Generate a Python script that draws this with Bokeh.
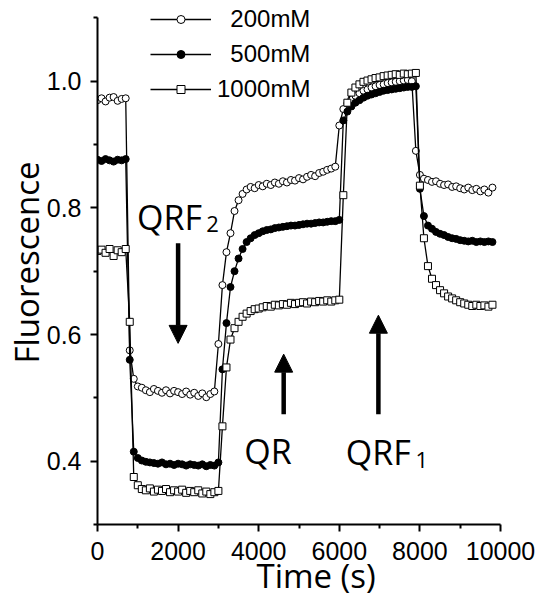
from bokeh.plotting import figure
from bokeh.models import (ColumnDataSource, FixedTicker, PrintfTickFormatter, Legend,
                          LegendItem, Label, Arrow, NormalHead)
from bokeh.embed import file_html
from bokeh.resources import INLINE

# ---------------- data ----------------
time_s = [0, 100, 200, 300, 400, 500, 600, 700, 800, 900,
          1000, 1100, 1200, 1300, 1400, 1500, 1600, 1700, 1800, 1900,
          2000, 2100, 2200, 2300, 2400, 2500, 2600, 2700, 2800, 2900,
          3000, 3100, 3200, 3300, 3400, 3500, 3600, 3700, 3800, 3900,
          4000, 4100, 4200, 4300, 4400, 4500, 4600, 4700, 4800, 4900,
          5000, 5100, 5200, 5300, 5400, 5500, 5600, 5700, 5800, 5900,
          6000, 6100, 6200, 6300, 6400, 6500, 6600, 6700, 6800, 6900,
          7000, 7100, 7200, 7300, 7400, 7500, 7600, 7700, 7800, 7900,
          8000, 8100, 8200, 8300, 8400, 8500, 8600, 8700, 8800, 8900,
          9000, 9100, 9200, 9300, 9400, 9500, 9600, 9700, 9800]

fl_200mM = [0.970, 0.973, 0.968, 0.974, 0.975, 0.969, 0.972, 0.973, 0.575, 0.530,
            0.518, 0.516, 0.512, 0.509, 0.514, 0.511, 0.508, 0.512, 0.507, 0.511,
            0.509, 0.506, 0.510, 0.505, 0.508, 0.503, 0.507, 0.501, 0.506, 0.510,
            0.585, 0.678, 0.730, 0.760, 0.795, 0.812, 0.822, 0.829, 0.833, 0.831,
            0.836, 0.834, 0.838, 0.836, 0.840, 0.838, 0.842, 0.840, 0.844, 0.843,
            0.847, 0.845, 0.849, 0.852, 0.850, 0.855, 0.857, 0.860, 0.862, 0.865,
            0.930, 0.956, 0.965, 0.972, 0.977, 0.981, 0.985, 0.987, 0.990, 0.992,
            0.994, 0.995, 0.997, 0.998, 0.999, 1.000, 1.001, 1.002, 1.000, 0.890,
            0.852, 0.846, 0.844, 0.841, 0.842, 0.838, 0.836, 0.837, 0.833, 0.834,
            0.831, 0.829, 0.832, 0.828, 0.830, 0.826, 0.829, 0.824, 0.832]

fl_500mM = [0.876, 0.874, 0.877, 0.875, 0.873, 0.876, 0.875, 0.877, 0.560, 0.415,
            0.405, 0.401, 0.399, 0.398, 0.397, 0.396, 0.398, 0.395, 0.396, 0.394,
            0.396, 0.395, 0.393, 0.395, 0.394, 0.393, 0.395, 0.392, 0.394, 0.393,
            0.398, 0.545, 0.618, 0.675, 0.700, 0.720, 0.735, 0.746, 0.752, 0.757,
            0.760, 0.763, 0.765, 0.766, 0.768, 0.769, 0.770, 0.771, 0.772, 0.772,
            0.773, 0.774, 0.775, 0.775, 0.776, 0.777, 0.777, 0.778, 0.779, 0.779,
            0.781, 0.938, 0.952, 0.960, 0.966, 0.970, 0.974, 0.977, 0.979, 0.981,
            0.983, 0.985, 0.986, 0.987, 0.988, 0.989, 0.990, 0.991, 0.991, 0.992,
            0.830, 0.787, 0.772, 0.767, 0.762, 0.759, 0.757, 0.754, 0.752, 0.751,
            0.749, 0.748, 0.747, 0.748, 0.746, 0.747, 0.746, 0.747, 0.746]

fl_1000mM = [0.732, 0.734, 0.729, 0.735, 0.724, 0.733, 0.730, 0.735, 0.620, 0.375,
             0.362, 0.356, 0.354, 0.357, 0.352, 0.355, 0.353, 0.356, 0.351, 0.354,
             0.352, 0.355, 0.350, 0.353, 0.351, 0.354, 0.349, 0.352, 0.348, 0.351,
             0.353, 0.455, 0.548, 0.592, 0.610, 0.620, 0.628, 0.633, 0.637, 0.640,
             0.641, 0.643, 0.645, 0.644, 0.647, 0.646, 0.648, 0.647, 0.650, 0.648,
             0.650, 0.651, 0.649, 0.652, 0.651, 0.653, 0.652, 0.654, 0.652, 0.654,
             0.655, 0.820, 0.966, 0.982, 0.990, 0.995, 0.999, 1.001, 1.003, 1.005,
             1.006, 1.008, 1.009, 1.010, 1.011, 1.010, 1.012, 1.011, 1.012, 1.013,
             0.835, 0.752, 0.708, 0.688, 0.678, 0.670, 0.665, 0.660, 0.657, 0.654,
             0.651, 0.649, 0.647, 0.645, 0.647, 0.645, 0.646, 0.644, 0.647]

series_labels = ["200mM", "500mM", "1000mM"]
x_ticks = [0, 2000, 4000, 6000, 8000, 10000]
x_minor_ticks = [1000, 3000, 5000, 7000, 9000]
y_ticks = [0.4, 0.6, 0.8, 1.0]
y_minor_ticks = [0.3, 0.5, 0.7, 0.9, 1.1]

# ---------------- figure ----------------
# frame reaches the top of the canvas (room for the legend); the axis line stops at 1.1
p = figure(frame_width=403, frame_height=524, x_range=(0, 10000), y_range=(0.3, 1.1274),
           output_backend="svg", toolbar_location=None,
           min_border_left=96, min_border_right=40, min_border_top=0, min_border_bottom=73)
p.xgrid.visible = False
p.ygrid.visible = False
p.outline_line_color = None
p.background_fill_color = "white"
p.border_fill_color = "white"

for ax in (p.xaxis[0], p.yaxis[0]):
    ax.axis_line_width = 2
    ax.axis_line_color = "black"
    ax.major_tick_line_width = 2
    ax.minor_tick_line_width = 2
    ax.major_tick_line_color = "black"
    ax.minor_tick_line_color = "black"
    ax.major_tick_in = 0
    ax.major_tick_out = 7
    ax.minor_tick_in = 0
    ax.minor_tick_out = 4
    ax.major_label_text_font = "Liberation Sans"
    ax.major_label_text_font_size = "25px"
    ax.major_label_text_color = "black"
    ax.axis_label_text_font = "Open Sans"
    ax.axis_label_text_font_size = "33px"
    ax.axis_label_text_font_style = "normal"
    ax.axis_label_text_color = "black"

p.yaxis.bounds = (0.3, 1.1)
p.xaxis.bounds = (0, 10000)
p.xaxis.major_label_standoff = 10
p.yaxis.major_label_standoff = 9
p.xaxis.ticker = FixedTicker(ticks=x_ticks, minor_ticks=x_minor_ticks)
p.yaxis.ticker = FixedTicker(ticks=y_ticks, minor_ticks=y_minor_ticks)
p.xaxis.formatter = PrintfTickFormatter(format="%d")
p.yaxis.formatter = PrintfTickFormatter(format="%.1f")

p.yaxis.axis_label = "Fluorescence"
p.yaxis.axis_label_standoff = -5
p.xaxis.axis_label = "\u00a0\u00a0\u00a0\u00a0Time (s)"
p.xaxis.axis_label_standoff = -10

src = ColumnDataSource(dict(t=time_s, a=fl_200mM, b=fl_500mM, c=fl_1000mM))

l1 = p.line("t", "a", source=src, line_color="black", line_width=1.3)
s1 = p.scatter("t", "a", source=src, marker="circle", size=7, fill_color="white",
               line_color="black", line_width=1)
l2 = p.line("t", "b", source=src, line_color="black", line_width=1.3)
s2 = p.scatter("t", "b", source=src, marker="circle", size=7, fill_color="black",
               line_color="black", line_width=1)
l3 = p.line("t", "c", source=src, line_color="black", line_width=1.3)
s3 = p.scatter("t", "c", source=src, marker="square", size=7, fill_color="white",
               line_color="black", line_width=1)

nb = "\u00a0\u00a0"
legend = Legend(items=[LegendItem(label=nb + series_labels[0], renderers=[l1, s1]),
                       LegendItem(label=nb + series_labels[1], renderers=[l2, s2]),
                       LegendItem(label=series_labels[2], renderers=[l3, s3])],
                location=(53, 421), orientation="vertical", glyph_width=61, glyph_height=20,
                label_height=20, label_standoff=6, spacing=7, padding=0, margin=0,
                border_line_color=None, background_fill_alpha=0,
                label_text_font="Liberation Sans", label_text_font_size="24px",
                label_text_color="black")
p.add_layout(legend)

# annotations
def big(x, y, t, size="34px"):
    p.add_layout(Label(x=x, y=y, text=t, text_align="left", text_baseline="alphabetic",
                       text_font="Open Sans", text_font_size=size, text_color="black"))

big(980, 0.785, "QRF")
big(2700, 0.774, "2", "22px")
big(3640, 0.416, "QR")
big(6160, 0.414, "QRF")
big(7890, 0.4015, "1", "22px")

def arrow(x, y0, y1):
    p.add_layout(Arrow(x_start=x, y_start=y0, x_end=x, y_end=y1, line_width=4.5,
                       line_color="black",
                       end=NormalHead(size=18, fill_color="black", line_color="black",
                                      line_width=1)))

arrow(2000, 0.744, 0.586)
arrow(4620, 0.474, 0.569)
arrow(6970, 0.474, 0.6305)

open("out.html", "w").write(file_html(p, INLINE))
